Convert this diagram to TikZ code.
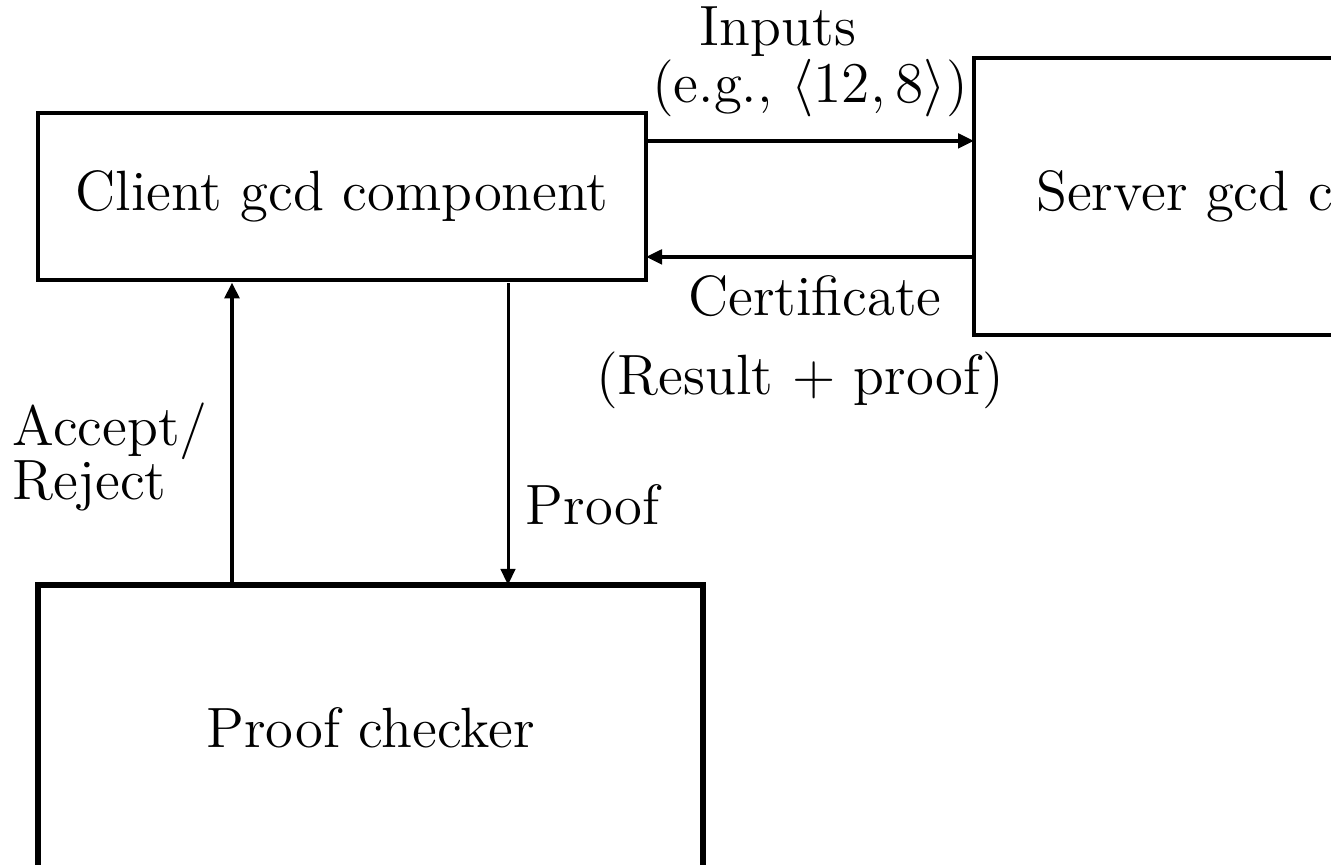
\documentclass[tikz,border=0pt]{standalone}
\usetikzlibrary{arrows.meta}
\begin{document}
\begin{tikzpicture}[x=0.25pt,y=-0.25pt,
  every node/.style={font=\fontsize{14.2}{16.5}\selectfont},
  box/.style={draw,line width=1.05pt,inner sep=0pt,outer sep=0pt,align=center},
  arr/.style={line width=0.9pt,-{Triangle[length=4pt,width=3.6pt]}},
  lbl/.style={inner sep=0pt,align=center}]
\useasboundingbox (0,0) rectangle (1331,865);
\clip (0,0) rectangle (1331,865);
\node[box,minimum width=152pt,minimum height=41.75pt] (client) at (342,196.5) {Client gcd component};
\node[box,minimum width=165.5pt,minimum height=69.25pt] (server) at (1305,196.5) {Server gcd component};
\node[box,line width=1.35pt,minimum width=166.25pt,minimum height=71.5pt] (pc) at (370.5,728) {Proof checker};
\coordinate (ax) at (232,0);
\coordinate (px) at (508,0);
\draw[arr] ([yshift=13.9pt]client.east) -- ([yshift=13.9pt]server.west);
\draw[arr] ([yshift=-15.1pt]server.west) -- ([yshift=-15.1pt]client.east);
\draw[arr,line width=1.05pt] (pc.north -| ax) -- ([yshift=-0.6pt]client.south -| ax);
\draw[arr,line width=0.75pt] ([yshift=-0.8pt]client.south -| px) -- (pc.north -| px);
\node[lbl] (inp) at (778,32) {Inputs};
\node[lbl] (eg) at (810,88) {(e.g., $\langle 12, 8\rangle$)};
\node[lbl] (cert) at (815,296) {Certificate};
\node[lbl] (res) at (800,380) {(Result + proof)};
\node[lbl,anchor=west,align=left] (acc) at (12,457) {Accept/\\[-3pt]Reject};
\node[lbl,anchor=west] (prf) at (525,505) {Proof};
\end{tikzpicture}
\end{document}
